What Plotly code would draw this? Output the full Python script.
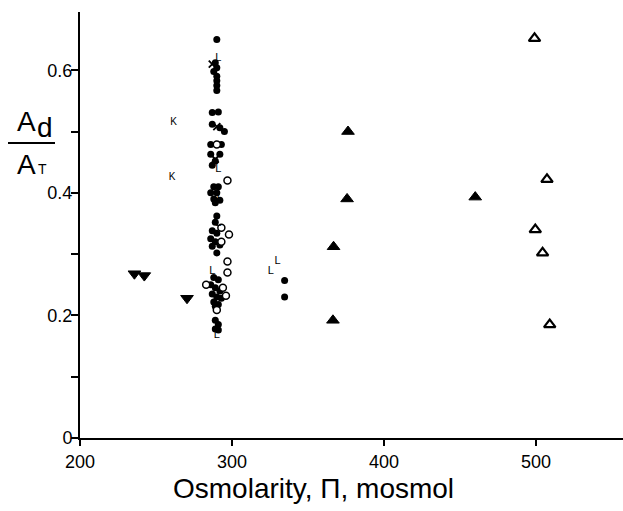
import plotly.graph_objects as go

# ---- data ----
filled_circle_x = [290, 289, 290, 288, 290, 290, 290, 290,
                   287, 291, 287, 292, 295, 286, 293,
                   286, 292, 289, 287,
                   288, 291, 286, 290, 288, 292, 289,
                   290, 289, 287, 290, 286, 289, 292, 287,
                   290,
                   288, 291, 286, 289, 292, 287, 290, 293, 288, 291, 289,
                   289, 291, 289, 291,
                   334.6, 334.6]
filled_circle_y = [0.650, 0.612, 0.604, 0.598, 0.590, 0.583, 0.575, 0.567,
                   0.531, 0.532, 0.512, 0.506, 0.500, 0.479, 0.479,
                   0.463, 0.463, 0.452, 0.445,
                   0.410, 0.410, 0.400, 0.400, 0.390, 0.388, 0.384,
                   0.362, 0.352, 0.338, 0.334, 0.325, 0.320, 0.315, 0.313,
                   0.302,
                   0.262, 0.258, 0.250, 0.245, 0.240, 0.235, 0.230, 0.228, 0.222, 0.218, 0.215,
                   0.192, 0.185, 0.178, 0.176,
                   0.257, 0.230]

open_circle_x = [290, 297, 293, 298, 293, 297, 297, 283, 294, 296, 290]
open_circle_y = [0.479, 0.420, 0.343, 0.332, 0.320, 0.288, 0.270, 0.250, 0.245, 0.232, 0.209]

filled_tri_x = [376.3, 375.7, 366.8, 366.4, 460.0]
filled_tri_y = [0.500, 0.390, 0.312, 0.192, 0.393]

open_tri_x = [499.0, 507.2, 499.5, 504.3, 509.0]
open_tri_y = [0.652, 0.422, 0.340, 0.302, 0.185]

inv_tri_x = [235.8, 242.3, 270.4]
inv_tri_y = [0.268, 0.265, 0.228]

k_x = [261.6, 260.5]
k_y = [0.515, 0.425]

l_x = [291, 291, 292, 291, 287, 290, 325.5, 330.0]
l_y = [0.620, 0.438, 0.392, 0.350, 0.272, 0.168, 0.272, 0.288]

xmark_x = [287, 290, 289]
xmark_y = [0.610, 0.508, 0.455]

x_ticks = [200, 300, 400, 500]
y_ticks = [0, 0.1, 0.2, 0.3, 0.4, 0.5, 0.6]
y_ticktext = ["0", "", "0.2", "", "0.4", "", "0.6"]

FONT = "Liberation Sans, Arial, sans-serif"

fig = go.Figure()
fig.add_trace(go.Scatter(x=filled_circle_x, y=filled_circle_y, mode="markers",
                         marker=dict(symbol="circle", size=7, color="black")))
fig.add_trace(go.Scatter(x=open_circle_x, y=open_circle_y, mode="markers",
                         marker=dict(symbol="circle", size=7, color="white",
                                     line=dict(color="black", width=1.5))))
fig.add_trace(go.Scatter(x=filled_tri_x, y=filled_tri_y, mode="markers",
                         marker=dict(symbol="triangle-up", size=11, color="black",
                                     line=dict(color="black", width=1))))
fig.add_trace(go.Scatter(x=open_tri_x, y=open_tri_y, mode="markers",
                         marker=dict(symbol="triangle-up-open", size=10, color="black",
                                     line=dict(color="black", width=2.2))))
fig.add_trace(go.Scatter(x=inv_tri_x, y=inv_tri_y, mode="markers",
                         marker=dict(symbol="triangle-down", size=11, color="black",
                                     line=dict(color="black", width=1))))
fig.add_trace(go.Scatter(x=xmark_x, y=xmark_y, mode="markers",
                         marker=dict(symbol="x-thin-open", size=7, color="black",
                                     line=dict(color="black", width=1.8))))
fig.add_trace(go.Scatter(x=k_x, y=k_y, mode="text", text=["K"] * len(k_x),
                         marker=dict(color="black"),
                         textfont=dict(family=FONT, size=10, color="#000000")))
fig.add_trace(go.Scatter(x=l_x, y=l_y, mode="text", text=["L"] * len(l_x),
                         marker=dict(color="black"),
                         textfont=dict(family=FONT, size=11, color="#000000")))

L, R, T, B = 80, 0, 12, 73
W, H = 623, 511
pw = W - L - R
ph = H - T - B

fig.update_layout(
    width=W, height=H, autosize=False,
    margin=dict(l=L, r=R, t=T, b=B, pad=0),
    paper_bgcolor="white", plot_bgcolor="white",
    showlegend=False,
    font=dict(family=FONT, color="black"),
    xaxis=dict(range=[200, 557.2], tickvals=x_ticks, ticks="outside", ticklen=6,
               tickwidth=1.5, tickcolor="black", showline=True, linecolor="black",
               linewidth=2, showgrid=False, zeroline=False,
               tickfont=dict(family=FONT, size=18, color="black")),
    yaxis=dict(range=[0, 0.695], tickvals=y_ticks, ticktext=y_ticktext, ticks="outside",
               ticklen=7, tickwidth=1.5, tickcolor="black", showline=True,
               linecolor="black", linewidth=2, showgrid=False, zeroline=False,
               ticklabelstandoff=-5,
               tickfont=dict(family=FONT, size=18, color="black")),
)

def px_ann(text, px, py, size, anchor="center"):
    fig.add_annotation(text=text, xref="paper", yref="paper", x=0, y=1,
                       xshift=px - L, yshift=-(py - T), showarrow=False,
                       xanchor=anchor, yanchor="middle",
                       font=dict(family=FONT, size=size, color="black"))

# y-axis fraction label  A_d / A_T
px_ann("A", 26, 121, 28)
px_ann("d", 45, 127, 28)
px_ann("A", 26, 164, 28)
px_ann("T", 42, 169, 14)
fig.add_shape(type="line", xref="paper", yref="paper",
              x0=(8 - L) / pw, x1=(55 - L) / pw,
              y0=(H - B - 143) / ph, y1=(H - B - 143) / ph,
              line=dict(color="black", width=2))

# x-axis title
px_ann("Osmolarity, \u03a0, mosmol", 313, 488, 28)

fig.write_html("out.html")
